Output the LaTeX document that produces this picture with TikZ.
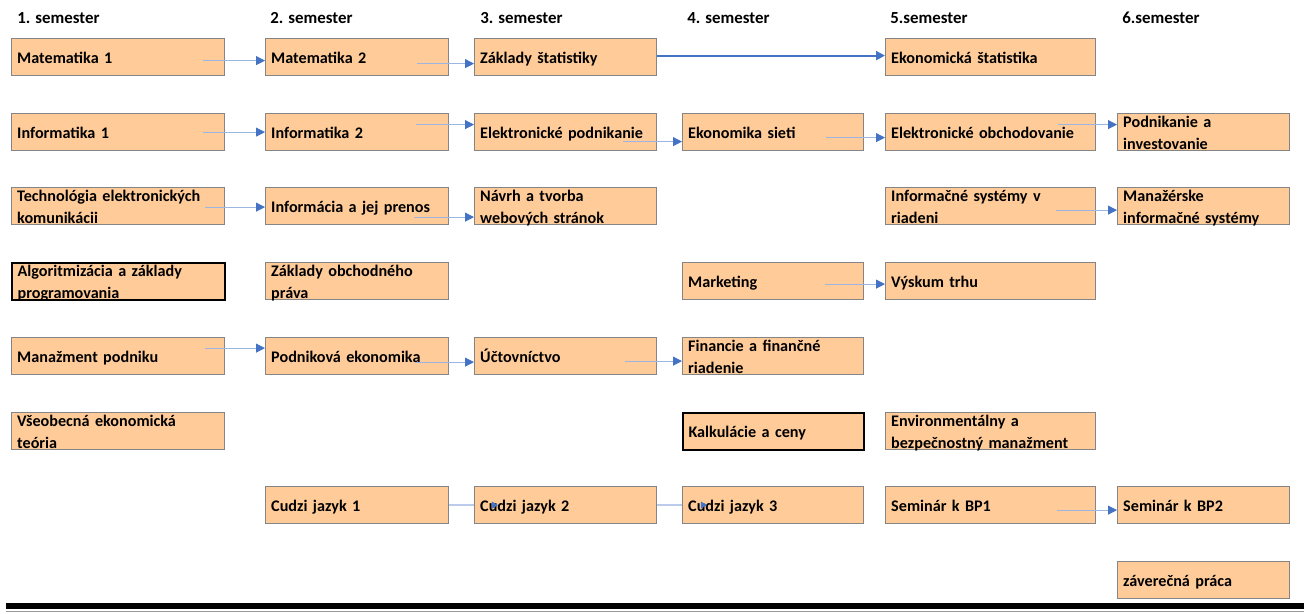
\documentclass[tikz,border=0pt]{standalone}
\usepackage{fontspec}
\setmainfont{Carlito}
\usepackage{xcolor}
\usepackage{tikz}
\usetikzlibrary{arrows.meta,backgrounds,positioning}
\definecolor{boxfill}{HTML}{FFCC99}
\definecolor{linkblue}{HTML}{9DB5E3}
\definecolor{tipblue}{HTML}{4472C4}
\newcommand\coursefont{\bfseries\fontsize{9.2}{12.5}\selectfont}
\newcommand\semfont{\bfseries\fontsize{9.6}{12}\selectfont}
\tikzset{
  course/.style   = {draw=black!48, line width=0.7pt, fill=boxfill, anchor=north west,
                     inner xsep=3.2pt, inner ysep=0pt, minimum height=0.74cm,
                     text width=#1-6.4pt, align=left, font=\coursefont,
                     text height=7.5pt, text depth=0.1pt},
  c1/.style       = {course=4.26cm},
  c2/.style       = {course=3.66cm},
  c3/.style       = {course=3.64cm},
  c4/.style       = {course=3.62cm},
  c5/.style       = {course=4.20cm},
  c6/.style       = {course=3.44cm},
  twoline/.style  = {text height=0.28cm, text depth=0.46cm},
  strong/.style   = {draw=black, line width=1.1pt},
  semlab/.style   = {anchor=west, inner sep=0pt, font=\semfont},
  link/.style     = {draw=linkblue, line width=0.6pt,
                     -{Triangle[length=5pt,width=5pt,color=tipblue]}},
  mainlink/.style = {draw=tipblue, line width=1.2pt, -{Triangle[length=5pt,width=5pt]}},
  faintlink/.style= {draw=linkblue!70, line width=0.8pt},
  tiponly/.style  = {draw=tipblue, line width=0.5pt,
                     -{Triangle[length=3.5pt,width=4pt]}},
}

\begin{document}
\begin{tikzpicture}
\useasboundingbox (0,0) rectangle (26.08,12.26);

% semester headings
\node[semlab] (h1) at (0.34,11.90)  {1. semester};
\node[semlab] (h2) at (5.40,11.90)  {2. semester};
\node[semlab] (h3) at (9.60,11.90)  {3. semester};
\node[semlab] (h4) at (13.74,11.90) {4. semester};
\node[semlab] (h5) at (17.80,11.90) {5.semester};
\node[semlab] (h6) at (22.44,11.90) {6.semester};

% 1. semester
\node[c1]                 (mat1)  at (0.22,11.50) {Matematika 1};
\node[c1]                 (inf1)  at (0.22,10.00) {Informatika 1};
\node[c1, twoline]        (tech)  at (0.22,8.52)  {Technológia elektronických\\komunikácii};
\node[c1, twoline, strong](alg)   at (0.22,7.02)  {Algoritmizácia a základy\\programovania};
\node[c1]                 (manaz) at (0.22,5.52)  {Manažment podniku};
\node[c1, twoline]        (vset)  at (0.22,4.02)  {Všeobecná ekonomická\\teória};

% 2. semester
\node[c2]                 (mat2)    at (5.30,11.50) {Matematika 2};
\node[c2]                 (inf2)    at (5.30,10.00) {Informatika 2};
\node[c2]                 (infpren) at (5.30,8.52)  {Informácia a jej prenos};
\node[c2, twoline]        (zop)     at (5.30,7.02)  {Základy obchodného\\práva};
\node[c2]                 (podek)   at (5.30,5.52)  {Podniková ekonomika};
\node[c2]                 (cj1)     at (5.30,2.54)  {Cudzi jazyk 1};

% 3. semester
\node[c3]                 (zstat) at (9.48,11.50) {Základy štatistiky};
\node[c3]                 (epod)  at (9.48,10.00) {Elektronické podnikanie};
\node[c3, twoline]        (navrh) at (9.48,8.52)  {Návrh a tvorba\\webových stránok};
\node[c3]                 (uct)   at (9.48,5.52)  {Účtovníctvo};
\node[c3]                 (cj2)   at (9.48,2.54)  {Cudzi jazyk 2};

% 4. semester
\node[c4]                 (esiet) at (13.64,10.00) {Ekonomika sieti};
\node[c4]                 (mark)  at (13.64,7.02)  {Marketing};
\node[c4, twoline]        (fin)   at (13.64,5.52)  {Financie a finančné\\riadenie};
\node[c4, strong]         (kalk)  at (13.64,4.02)  {Kalkulácie a ceny};
\node[c4]                 (cj3)   at (13.64,2.54)  {Cudzi jazyk 3};

% 5. semester
\node[c5]                 (estat) at (17.70,11.50) {Ekonomická štatistika};
\node[c5]                 (eobch) at (17.70,10.00) {Elektronické obchodovanie};
\node[c5, twoline]        (isr)   at (17.70,8.52)  {Informačné systémy v\\riadeni};
\node[c5]                 (vysk)  at (17.70,7.02)  {Výskum trhu};
\node[c5, twoline]        (env)   at (17.70,4.02)  {Environmentálny a\\bezpečnostný manažment};
\node[c5]                 (bp1)   at (17.70,2.54)  {Seminár k BP1};

% 6. semester
\node[c6, twoline]        (podinv) at (22.34,10.00) {Podnikanie a\\investovanie};
\node[c6, twoline]        (mis)    at (22.34,8.52)  {Manažérske\\informačné systémy};
\node[c6]                 (bp2)    at (22.34,2.54)  {Seminár k BP2};
\node[c6]                 (zav)    at (22.34,1.04)  {záverečná práca};

% prerequisites
\draw[link] ([xshift=-0.44cm,yshift=-0.07cm]mat1.east) -- ([yshift=-0.07cm]mat2.west);
\draw[link] ([xshift=-0.64cm,yshift=-0.13cm]mat2.east) -- ([yshift=-0.13cm]zstat.west);
\draw[mainlink] ([yshift=0.03cm]zstat.east) -- ([yshift=0.03cm]estat.west);
\draw[link] ([xshift=-0.44cm]inf1.east) -- (inf2.west);
\draw[link] ([xshift=-0.66cm,yshift=0.15cm]inf2.east) -- ([yshift=0.15cm]epod.west);
\draw[link] ([xshift=-0.68cm,yshift=-0.19cm]epod.east) -- ([yshift=-0.19cm]esiet.west);
\draw[link] ([xshift=-0.76cm,yshift=-0.11cm]esiet.east) -- ([yshift=-0.11cm]eobch.west);
\draw[link] ([xshift=-0.76cm,yshift=0.15cm]eobch.east) -- ([yshift=0.15cm]podinv.west);
\draw[link] ([xshift=-0.40cm,yshift=-0.02cm]tech.east) -- ([yshift=-0.02cm]infpren.west);
\draw[link] ([xshift=-0.70cm,yshift=-0.22cm]infpren.east) -- ([yshift=-0.22cm]navrh.west);
\draw[link] ([xshift=-0.80cm,yshift=-0.08cm]isr.east) -- ([yshift=-0.08cm]mis.west);
\draw[link] ([xshift=-0.78cm,yshift=-0.06cm]mark.east) -- ([yshift=-0.06cm]vysk.west);
\draw[link] ([xshift=-0.40cm,yshift=0.16cm]manaz.east) -- ([yshift=0.16cm]podek.west);
\draw[link] ([xshift=-0.68cm,yshift=-0.12cm]podek.east) -- ([yshift=-0.12cm]uct.west);
\draw[link] ([xshift=-0.64cm,yshift=-0.10cm]uct.east) -- ([yshift=-0.10cm]fin.west);
\draw[link] ([xshift=-0.78cm,yshift=-0.10cm]bp1.east) -- ([yshift=-0.10cm]bp2.west);

% language courses: line runs under the next box, only the tip shows
\coordinate (cj2tip) at ([xshift=0.48cm]cj2.west);
\coordinate (cj3tip) at ([xshift=0.50cm]cj3.west);
\begin{scope}[on background layer]
  \draw[faintlink] (cj1.east) -- (cj2tip);
  \draw[faintlink] (cj2.east) -- (cj3tip);
\end{scope}
\draw[tiponly] ([xshift=-1pt]cj2tip) -- (cj2tip);
\draw[tiponly] ([xshift=-1pt]cj3tip) -- (cj3tip);

% page rule
\draw[line width=0.12cm] (0.12,0.14) -- (26.08,0.14);
\draw[black!40, line width=0.035cm] (0.12,0.03) -- (26.08,0.03);
\end{tikzpicture}
\end{document}
